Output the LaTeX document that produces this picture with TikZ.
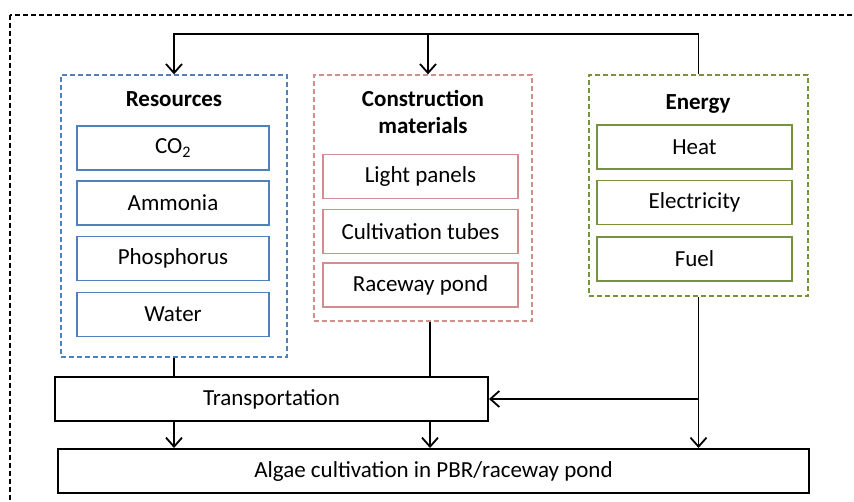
\documentclass[tikz,border=0pt]{standalone}
\usepackage{fontspec}
\setmainfont{Carlito}
\usetikzlibrary{arrows.meta,positioning}

\definecolor{resblue}{RGB}{79,129,189}
\definecolor{conred}{RGB}{208,143,141}
\definecolor{enggreen}{RGB}{119,147,60}

\tikzset{
  item/.style={draw, line width=1.8pt, fill=white, inner sep=0pt,
    minimum width=194pt, minimum height=44pt},
  group/.style={draw, line width=1.3pt, dash pattern=on 5pt off 3pt, inner sep=0pt},
  flowbox/.style={draw=black, line width=2pt, inner sep=0pt, minimum height=44pt},
  title/.style={font=\fontsize{23}{27}\selectfont\bfseries, align=center},
  link/.style={line width=1.8pt},
  arr/.style={link, -{Straight Barb[length=9pt,width=16pt,line width=1.8pt]}}
}

\begin{document}
\begin{tikzpicture}[x=1pt, y=-1pt, font=\fontsize{23}{27}\selectfont]
\useasboundingbox (0,0) rectangle (854,502);
\clip (0,0) rectangle (854,502);

% outer frame, runs off the page on the right and bottom
\draw[line width=2.3pt, dash pattern=on 5pt off 3pt] (10,15) rectangle (880,530);

% resources
\node[group, draw=resblue, minimum width=226pt, minimum height=282pt] (res) at (174,216) {};
\node[title] at (174,99) {Resources};
\node[item, draw=resblue, minimum width=192pt] (co2) at (173,148) {CO\textsubscript{2}};
\node[item, draw=resblue, minimum width=192pt] (ammonia) at (173,203) {Ammonia};
\node[item, draw=resblue, minimum width=192pt] (phos) at (173,258.5) {Phosphorus};
\node[item, draw=resblue, minimum width=192pt] (water) at (173,314.5) {Water};

% construction materials
\node[group, draw=conred, minimum width=218pt, minimum height=246pt] (con) at (423,198) {};
\node[title] at (423,112) {Construction\\materials};
\node[item, draw=conred, minimum width=195pt] (panels) at (420.5,176.5) {Light panels};
\node[item, draw=conred, minimum width=195pt] (tubes) at (420.5,231.5) {Cultivation tubes};
\node[item, draw=conred, minimum width=195pt] (pond) at (420.5,285) {Raceway pond};

% energy
\node[group, draw=enggreen, minimum width=219pt, minimum height=221pt] (eng) at (698.5,185.5) {};
\node[title] at (698,104) {Energy};
\node[item, draw=enggreen, minimum width=195pt] (heat) at (694.5,147) {Heat};
\node[item, draw=enggreen, minimum width=195pt] (elec) at (694.5,202.5) {Electricity};
\node[item, draw=enggreen, minimum width=195pt] (fuel) at (694.5,259) {Fuel};

% transport and cultivation
\node[flowbox, minimum width=433pt] (trans) at (271.5,399) {Transportation};
\node[flowbox, minimum width=751pt] (algae) at (433.5,471) {Algae cultivation in PBR/raceway pond};

% energy feeds back to the top
\coordinate (bus) at (0,34);
\draw[arr] (eng.north) |- (bus -| res.north) -- (res.north);
\draw[arr] ([xshift=5pt]con.north |- bus) -- ([xshift=5pt]con.north);

% into transportation
\draw[link] (res.south) -- (res.south |- trans.north);
\draw[link] ([xshift=7pt]con.south) -- ([xshift=7pt]con.south |- trans.north);
\draw[arr] (eng.south |- trans.east) -- (trans.east);

% into cultivation
\draw[arr] (eng.south) -- (eng.south |- algae.north);
\draw[arr] (res.south |- trans.south) -- (res.south |- algae.north);
\draw[arr] ([xshift=7pt]con.south |- trans.south) -- ([xshift=7pt]con.south |- algae.north);

\end{tikzpicture}
\end{document}
